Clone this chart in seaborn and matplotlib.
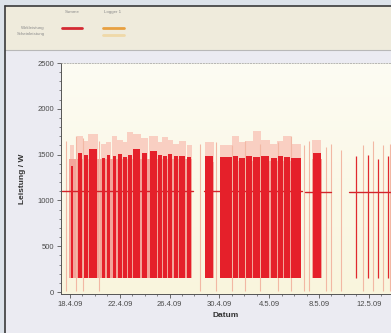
import numpy as np
import pandas as pd
import matplotlib
matplotlib.use("Agg")
import matplotlib.pyplot as plt
from matplotlib.patches import Rectangle
from matplotlib.lines import Line2D
import seaborn as sns

# ---------------- data (days since 18.4.09) ----------------
tick_days = [0, 4, 8, 12, 16, 20, 24]
tick_labels = ["18.4.09", "22.4.09", "26.4.09", "30.4.09", "4.5.09", "8.5.09", "12.5.09"]
y_ticks = [0, 500, 1000, 1500, 2000, 2500]

# operating blocks (light red filling between on-periods)
block_start = [-0.08, 10.85, 12.05, 19.40]
block_end = [9.80, 11.55, 18.55, 20.20]
block_top = [1450, 1420, 1430, 1450]

# strong red on-periods (Summe Wirkleistung)
red_start = [0.08, 0.64, 1.13, 1.53, 2.58, 2.98, 3.46, 3.86, 4.27, 4.67, 5.07, 5.80,
             6.44, 7.09, 7.49, 7.89, 8.37, 8.78, 9.42, 10.87, 12.08, 13.10, 13.60,
             14.15, 14.72, 15.36, 16.16, 16.72, 17.20, 17.76, 19.48]
red_end = [0.24, 0.97, 1.45, 2.17, 2.82, 3.22, 3.70, 4.19, 4.59, 4.99, 5.64, 6.20,
           7.00, 7.41, 7.81, 8.21, 8.70, 9.26, 9.74, 11.51, 12.98, 13.48, 14.03,
           14.60, 15.25, 16.02, 16.60, 17.10, 17.65, 18.52, 20.13]
red_top = [1380, 1520, 1500, 1560, 1460, 1500, 1490, 1510, 1470, 1500, 1560, 1520,
           1540, 1500, 1480, 1510, 1490, 1480, 1470, 1480, 1470, 1490, 1460,
           1480, 1470, 1490, 1460, 1480, 1470, 1460, 1520]
# light peaks reached above each on-period
fuzz_top = [1600, 1700, 1650, 1720, 1620, 1640, 1700, 1660, 1640, 1750, 1720, 1680,
            1700, 1640, 1690, 1660, 1620, 1650, 1600, 1640, 1610, 1700, 1640,
            1650, 1760, 1660, 1620, 1650, 1700, 1620, 1660]

# thin red spikes in the last period
thin_x = [22.95, 23.91, 24.72, 25.52]
thin_top = [1480, 1500, 1450, 1490]

# pale lines (Logger 1 Scheinleistung)
pale_x = [-0.30, 0.45, 1.05, 2.35, 10.45, 11.75, 13.04, 14.09, 15.30, 16.67, 17.71,
          18.76, 19.16, 20.53, 20.93, 21.75, 23.51, 24.32, 25.12, 25.70]
pale_top = [1650, 1700, 1680, 1650, 1620, 1640, 1600, 1650, 1620, 1640, 1700,
            1600, 1650, 1580, 1620, 1550, 1600, 1650, 1600, 1620]

# Summe level line segments
seg_start = [-0.65, 10.80, 18.90, 22.40]
seg_end = [9.90, 18.60, 21.00, 25.80]
seg_level = [1100, 1100, 1095, 1095]

# ---------------- figure ----------------
W, H = 391, 333
fig = plt.figure(figsize=(W / 100, H / 100), dpi=100)
sns.set_style("white")
plt.rcParams['font.family'] = ['Liberation Sans', 'DejaVu Sans']
fig.patch.set_facecolor("#dde3ea")

def fx(x):
    return x / W

def fy(y):
    return 1 - y / H

# inner panel
fig.patches.append(Rectangle((fx(5), 0), fx(W - 5), fy(6), transform=fig.transFigure,
                             facecolor="#ebebf2", edgecolor="none", zorder=-2))
# header band
fig.patches.append(Rectangle((fx(5), fy(50)), fx(W - 5), (50 - 6) / H, transform=fig.transFigure,
                             facecolor="#efebdc", edgecolor="none", zorder=-1))
fig.lines.append(Line2D([fx(5), 1], [fy(50), fy(50)], transform=fig.transFigure,
                        color="#b8b8b8", lw=0.8))
fig.lines.append(Line2D([fx(5), fx(5)], [0, fy(6)], transform=fig.transFigure,
                        color="#3a3a3a", lw=1.2))
fig.lines.append(Line2D([fx(5), 1], [fy(6), fy(6)], transform=fig.transFigure,
                        color="#3a3a3a", lw=1.2))

# header legend
tkw = dict(transform=fig.transFigure, fontsize=3.2, color="#8a8a8a")
fig.text(fx(72), fy(12), "Summe", ha="center", va="center", **tkw)
fig.text(fx(113), fy(12), "Logger 1", ha="center", va="center", **tkw)
fig.text(fx(45), fy(28), "Wirkleistung", ha="right", va="center", **tkw)
fig.text(fx(45), fy(34.5), "Scheinleistung", ha="right", va="center", **tkw)
fig.lines.append(Line2D([fx(62), fx(82)], [fy(28), fy(28)], transform=fig.transFigure,
                        color="#d42a33", lw=2.0))
fig.lines.append(Line2D([fx(103), fx(124)], [fy(28), fy(28)], transform=fig.transFigure,
                        color="#e8a040", lw=2.0))
fig.lines.append(Line2D([fx(103), fx(124)], [fy(35), fy(35)], transform=fig.transFigure,
                        color="#efd9a8", lw=2.0))

# axes
left, right, top, bottom = 61, 391, 63, 294
ax = fig.add_axes([fx(left), 1 - bottom / H, fx(right - left), (bottom - top) / H])
ax.set_zorder(5)

# background gradient
grad = np.linspace(0, 1, 100).reshape(-1, 1)
cmap = matplotlib.colors.LinearSegmentedColormap.from_list("bg", ["#fdfcf3", "#f9f5dd"])
ax.imshow(grad, extent=[-0.72, 25.78, -20, 2500], aspect="auto", cmap=cmap,
          origin="upper", zorder=0)

# light peaks above on-periods
for s, e, t in zip(red_start, red_end, fuzz_top):
    ax.bar((s + e) / 2, t - 150, width=(e - s) + 0.12, bottom=150, color="#f9cfc2",
           edgecolor="none", zorder=1)
# filling between on-periods
for s, e, t in zip(block_start, block_end, block_top):
    ax.bar((s + e) / 2, t - 150, width=e - s, bottom=150, color="#f3a59a",
           edgecolor="none", zorder=2)

# pale lines
ax.vlines(pale_x, 10, pale_top, color="#f2b8a4", lw=0.8, zorder=2.2)

# Summe level line (under the red bars)
seg_df = pd.DataFrame({
    "d": [v for s, e in zip(seg_start, seg_end) for v in (s, e)],
    "p": [v for l in seg_level for v in (l, l)],
    "seg": [i for i in range(len(seg_start)) for _ in (0, 1)],
})
sns.lineplot(data=seg_df, x="d", y="p", units="seg", estimator=None, color="#d2242b",
             lw=1.0, ax=ax, zorder=2.5, legend=False)

# red bars
for s, e, t in zip(red_start, red_end, red_top):
    ax.bar((s + e) / 2, t - 150, width=e - s, bottom=150, color="#e5202a",
           edgecolor="none", zorder=3)
ax.vlines(thin_x, 150, thin_top, color="#e02a2e", lw=0.9, zorder=3)

ax.set_xlim(-0.72, 25.78)
ax.set_ylim(-20, 2500)

# axes styling
ax.set_xticks(tick_days)
ax.set_xticklabels(tick_labels)
ax.set_yticks(y_ticks)
ax.set_xticks(np.arange(-0.0, 26, 1), minor=True)
ax.set_yticks(np.arange(0, 2501, 100), minor=True)
ax.tick_params(axis="both", which="major", labelsize=5.5, colors="#555555",
               length=3, width=0.6, direction="out", pad=2, bottom=True, left=True)
ax.tick_params(axis="both", which="minor", length=1.5, width=0.5, colors="#555555",
               bottom=True, left=True)
for lab in ax.get_xticklabels() + ax.get_yticklabels():
    lab.set_color("#4a4a4a")
for side in ["left", "bottom"]:
    ax.spines[side].set_color("#555555")
    ax.spines[side].set_linewidth(0.7)
ax.spines["top"].set_color("#999999")
ax.spines["top"].set_linewidth(0.5)
ax.spines["top"].set_linestyle((0, (2, 2)))
ax.spines["right"].set_visible(False)
ax.set_xlabel("Datum", fontsize=6, fontweight="bold", color="#333333", labelpad=3)
ax.set_ylabel("Leistung / W", fontsize=6, fontweight="bold", color="#333333", labelpad=8)

fig.savefig("out.png", dpi=100, facecolor=fig.get_facecolor())
